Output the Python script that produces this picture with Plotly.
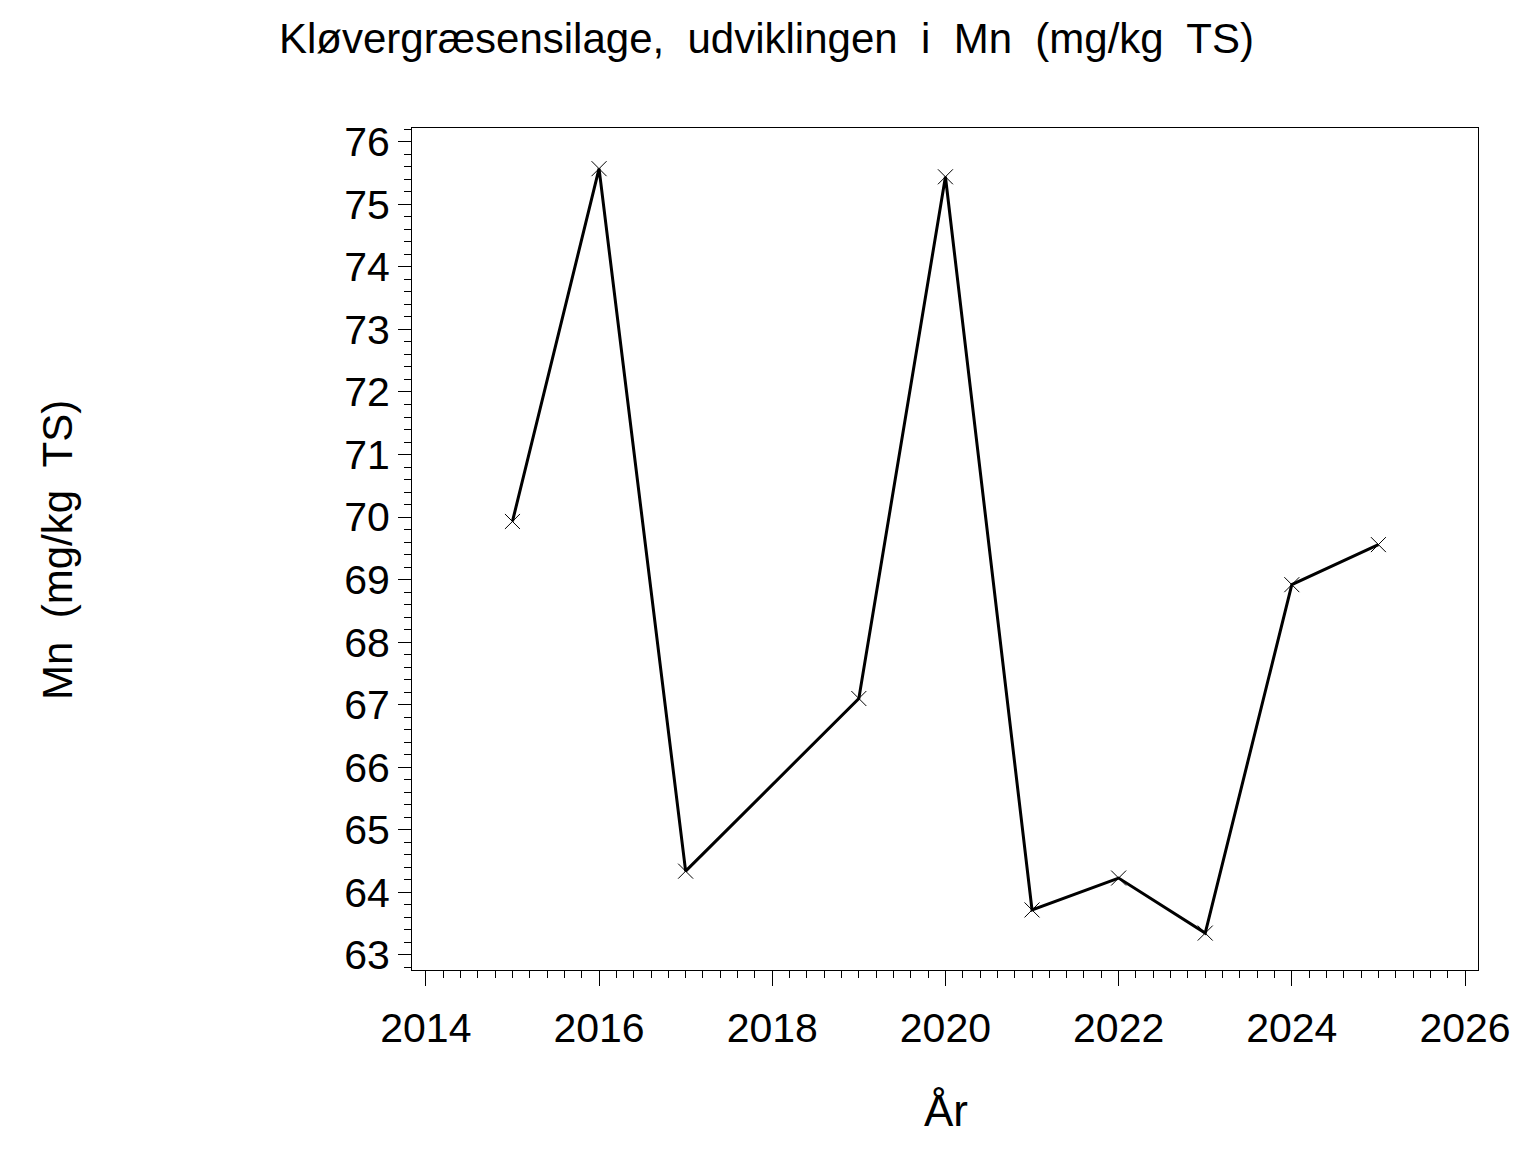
import plotly.graph_objects as go

years = [2015, 2016, 2017, 2019, 2020, 2021, 2022, 2023, 2024, 2025]
mn_values = [69.93, 75.57, 64.34, 67.10, 75.44, 63.72, 64.23, 63.35, 68.92, 69.56]

x_ticks = [2014, 2016, 2018, 2020, 2022, 2024, 2026]
y_ticks = list(range(63, 77))

title_text = "Kløvergræsensilage,  udviklingen  i  Mn  (mg/kg  TS)"
x_title = "År"
y_title = "Mn  (mg/kg  TS)"

FONT = "Liberation Sans, Arial, sans-serif"

# page offset (browser body margin) compensation
OFF = 8
L, T = 412 - OFF, 128 - OFF
PW, PH = 1066, 842
W, H = 1536, 1152
R = W - L - PW
B = H - T - PH


def px(x):
    return (x - OFF - L) / PW


def py(y):
    return 1 - (y - OFF - T) / PH


fig = go.Figure()
fig.add_trace(go.Scatter(
    x=years, y=mn_values,
    mode="lines+markers",
    line=dict(color="black", width=3),
    marker=dict(symbol="x-thin", size=15, color="black",
                line=dict(color="black", width=1)),
    showlegend=False,
))

fig.update_layout(
    width=W, height=H,
    paper_bgcolor="white", plot_bgcolor="white",
    margin=dict(l=L, r=R, t=T, b=B),
    font=dict(family=FONT, color="black"),
    annotations=[
        dict(text=title_text, x=px(766), y=py(38), xref="paper", yref="paper",
             xanchor="center", yanchor="middle",
             showarrow=False, font=dict(size=42, family=FONT, color="black")),
        dict(text=y_title, x=px(57), y=py(550), xref="paper", yref="paper",
             xanchor="center", yanchor="middle", showarrow=False, textangle=-90,
             font=dict(size=42, family=FONT, color="black")),
        dict(text=x_title, x=px(946), y=py(1110), xref="paper", yref="paper",
             xanchor="center", yanchor="middle",
             showarrow=False, font=dict(size=44, family=FONT, color="black")),
    ],
)

fig.update_xaxes(
    range=[2013.84, 2026.15],
    tickvals=x_ticks, ticktext=[str(v) for v in x_ticks],
    ticks="outside", ticklen=15, tickwidth=1, tickcolor="black",
    ticklabelstandoff=7,
    showline=True, linecolor="black", linewidth=1, mirror=True,
    showgrid=False, zeroline=False,
    tickfont=dict(size=41, family=FONT, color="black"),
    minor=dict(dtick=0.2, tick0=2014, ticks="outside", ticklen=7,
               tickwidth=1, tickcolor="black", showgrid=False),
)
fig.update_yaxes(
    range=[62.76, 76.22],
    tickvals=y_ticks, ticktext=[str(v) for v in y_ticks],
    ticks="outside", ticklen=13, tickwidth=1, tickcolor="black",
    showline=True, linecolor="black", linewidth=1, mirror=True,
    showgrid=False, zeroline=False,
    tickfont=dict(size=41, family=FONT, color="black"),
    minor=dict(dtick=0.2, tick0=63, ticks="outside", ticklen=7,
               tickwidth=1, tickcolor="black", showgrid=False),
)

fig.write_html("out.html")
